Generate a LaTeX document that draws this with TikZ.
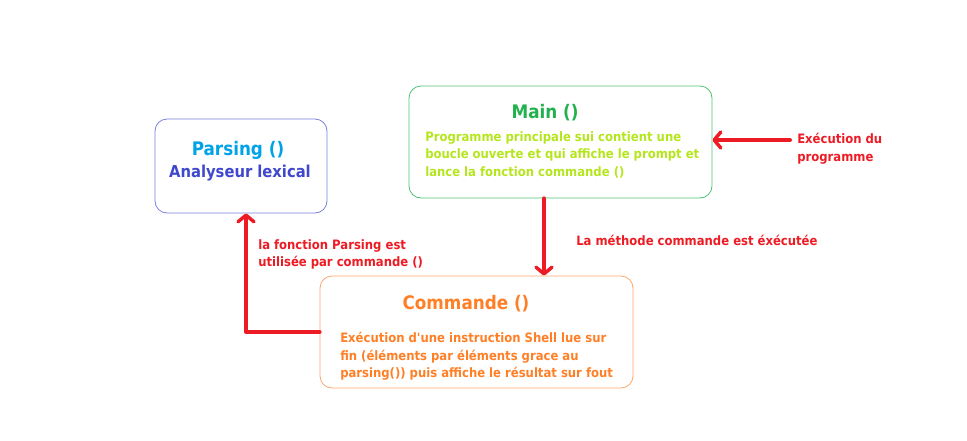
\documentclass[tikz,border=0pt]{standalone}
\usepackage{fontspec}
\setmainfont{DejaVu Sans Condensed}
\usepackage{xcolor}
\usetikzlibrary{arrows.meta, positioning}

\definecolor{prsBlue}{HTML}{00A2E8}
\definecolor{prsIndigo}{HTML}{3F48CC}
\definecolor{mainGreen}{HTML}{22B14C}
\definecolor{mainLime}{HTML}{B5E61D}
\definecolor{cmdOrange}{HTML}{FF7F27}
\definecolor{arrRed}{HTML}{ED1C24}

\begin{document}
\begin{tikzpicture}[
  x=0.75pt, y=-0.75pt,
  box/.style={rectangle, rounded corners=9pt, line width=0.6pt},
  ttl/.style={font=\fontsize{14}{16}\selectfont\bfseries},
  txt/.style={font=\fontsize{9.7}{13.1}\selectfont\bfseries, align=left, inner sep=0pt},
  arr/.style={draw=arrRed, line width=3pt, line cap=round, line join=round,
    -{Straight Barb[length=5pt, width=12pt, line width=2.6pt, round]}},
  lbl/.style={font=\fontsize{9.7}{13.3}\selectfont\bfseries, text=arrRed, align=left, inner sep=0pt},
]
\useasboundingbox (0,0) rectangle (967,440);

% les trois fonctions
\node[box, draw=prsIndigo!70, minimum width=172*0.75pt, minimum height=94*0.75pt] (parse) at (241,166) {};
\node[ttl, text=prsBlue] (parseT) at (238,150) {Parsing ()};
\node[ttl, font=\fontsize{12.3}{14}\selectfont\bfseries, text=prsIndigo] (parseS) at (240,173) {Analyseur lexical};

\node[box, draw=mainGreen!80, minimum width=303*0.75pt, minimum height=112*0.75pt] (main) at (560.5,142) {};
\node[ttl, text=mainGreen] (mainT) at (545,113) {Main ()};
\node[txt, text=mainLime, anchor=north west] (mainB) at (425,131) {Programme principale sui contient une\\boucle ouverte et qui affiche le prompt et\\lance la fonction commande ()};

\node[box, draw=cmdOrange!70, minimum width=313*0.75pt, minimum height=112*0.75pt] (cmd) at (476.5,332) {};
\node[ttl, text=cmdOrange] (cmdT) at (466,304) {Commande ()};
\node[txt, text=cmdOrange, anchor=north west] (cmdB) at (340,332) {Exécution d\textquotesingle une instruction Shell lue sur\\fin (éléments par éléments grace au\\parsing()) puis affiche le résultat sur fout};

% appels
\coordinate (exec) at (790,140);
\coordinate (down) at (544,0);
\draw[arr] (exec) -- (exec -| main.east);
\draw[arr] (down |- main.south) -- (down |- cmd.north);
\draw[arr] (cmd.west) -| ([xshift=5*0.75pt]parse.south);

\node[lbl, anchor=west] (execL) at (797,149) {Exécution du\\programme};
\node[lbl, anchor=west] (downL) at (576,240) {La méthode commande est éxécutée};
\node[lbl, anchor=north west] (upL) at (258,239) {la fonction Parsing est\\utilisée par commande ()};
\end{tikzpicture}
\end{document}
